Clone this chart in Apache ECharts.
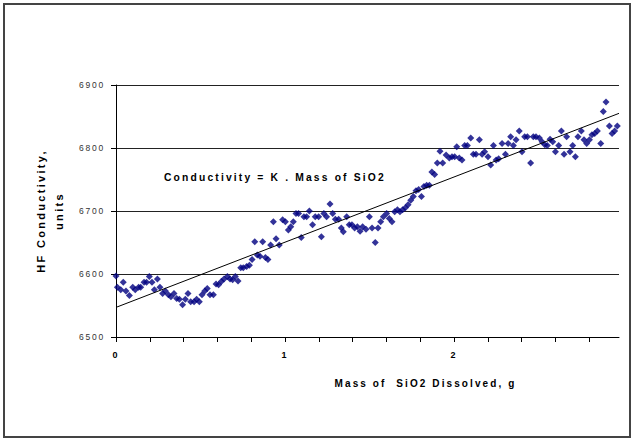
<!DOCTYPE html>
<html>
<head>
<meta charset="utf-8">
<script src="https://cdn.jsdelivr.net/npm/echarts@6/dist/echarts.min.js"></script>
<style>
  html, body { margin: 0; padding: 0; background: #fff; }
  #chart { width: 633px; height: 440px; }
  /* spaced-out lettering, proportional to each label's size */
  #chart svg text { letter-spacing: 0.21em; white-space: pre; }
</style>
</head>
<body>
<div id="chart"></div>
<script>
// Mass of SiO2 dissolved (g) for each reading
const massSiO2 = [
  0.000,0.008,0.028,0.043,0.059,0.079,0.099,0.114,0.134,0.146,0.166,0.181,0.197,0.213,0.227,0.245,0.260,0.276,0.292,0.310,
  0.325,0.343,0.359,0.375,0.394,0.410,0.426,0.442,0.462,0.477,0.493,0.509,0.525,0.540,0.556,0.576,0.592,0.607,0.623,0.639,
  0.659,0.675,0.690,0.706,0.722,0.738,0.753,0.773,0.789,0.805,0.821,0.836,0.852,0.868,0.884,0.899,0.915,
  0.931,0.947,0.966,0.986,1.002,1.020,1.034,1.049,1.065,1.080,1.096,1.112,1.128,1.144,1.163,1.179,1.199,1.215,1.230,1.246,
  1.266,1.282,1.298,1.317,1.333,1.345,1.365,1.380,1.396,1.412,1.428,1.444,1.459,1.479,1.499,1.515,1.534,1.550,1.566,1.582,
  1.601,1.617,1.633,1.649,1.665,1.680,1.696,1.712,1.728,1.744,1.759,1.775,1.791,1.807,1.822,1.838,1.854,1.869,1.885,1.901,1.917,
  1.933,1.953,1.972,1.988,2.004,2.016,2.031,2.047,2.063,2.079,2.099,2.114,2.130,2.150,2.166,2.181,2.201,2.217,2.233,2.249,
  2.264,2.284,2.304,2.320,2.335,2.351,2.367,2.386,2.402,2.418,2.434,2.453,2.469,2.485,2.505,2.521,2.537,2.552,2.568,2.584,
  2.600,2.619,2.635,2.651,2.666,2.686,2.702,2.718,2.733,2.753,2.769,2.785,2.801,2.816,2.832,2.848,2.868,2.883,2.899,2.919,
  2.935,2.950,2.966
];

// HF conductivity reading (units) at each mass
const conductivity = [
  6597,6579,6575,6587,6573,6566,6579,6575,6579,6579,6587,6587,6596,6587,6575,6592,6579,6569,6573,6567,
  6564,6569,6561,6560,6551,6560,6569,6556,6556,6560,6556,6567,6573,6577,6567,6567,6584,6583,6588,6592,
  6596,6592,6591,6596,6589,6610,6610,6612,6614,6623,6651,6630,6628,6651,6626,6623,6646,
  6683,6656,6646,6686,6683,6670,6675,6683,6696,6696,6658,6691,6691,6700,6678,6691,6691,6659,6696,6691,
  6711,6696,6687,6687,6673,6667,6691,6678,6678,6673,6675,6668,6675,6671,6691,6673,6650,6673,6683,6691,
  6696,6688,6683,6699,6702,6699,6702,6705,6710,6717,6723,6732,6734,6723,6739,6741,6741,6762,6758,6776,6795,
  6776,6789,6784,6786,6786,6802,6784,6781,6804,6804,6816,6790,6790,6813,6790,6794,6786,6773,6804,6781,
  6783,6807,6790,6807,6818,6804,6813,6827,6794,6818,6818,6776,6818,6818,6816,6810,6805,6804,6814,6810,
  6794,6804,6827,6790,6818,6794,6804,6786,6818,6827,6813,6807,6813,6821,6823,6827,6807,6858,6873,6835,
  6823,6827,6835
];

// Straight-line fit, end points
const trendMass = [0, 2.976];
const trendConductivity = [6547, 6855];

// Axis ticks
const xTickValues = [0, 0.2, 0.4, 0.6, 0.8, 1.0, 1.2, 1.4, 1.6, 1.8, 2.0, 2.2, 2.4, 2.6, 2.8];
const xLabelValues = [0, 1, 2];
const yTickLabels = ['6500', '6600', '6700', '6800', '6900'];

const FONT = '"Liberation Sans", Arial, sans-serif';

const chart = echarts.init(document.getElementById('chart'), null, { renderer: 'svg' });

chart.setOption({
  backgroundColor: '#fff',
  animation: false,
  textStyle: { fontFamily: FONT },
  grid: { left: 116, top: 85, right: 14, bottom: 103, containLabel: false },
  xAxis: {
    type: 'value',
    min: 0,
    max: 2.976,
    axisLine: { show: true, onZero: false, lineStyle: { color: '#000', width: 1 } },
    axisTick: { show: true, customValues: xTickValues, length: 5, lineStyle: { color: '#000' } },
    axisLabel: {
      customValues: xLabelValues,
      color: '#000', fontSize: 9, fontWeight: 'bold', margin: 13, fontFamily: FONT,
      formatter: v => String(Math.round(v))
    },
    splitLine: { show: false },
    name: 'Mass of  SiO2 Dissolved, g',
    nameLocation: 'middle',
    nameGap: 41,
    nameTextStyle: { color: '#000', fontSize: 10, fontWeight: 'bold', fontFamily: FONT, padding: [0, 0, 0, 116] }
  },
  yAxis: {
    type: 'value',
    min: 6500,
    max: 6900,
    interval: 100,
    axisLine: { show: true, lineStyle: { color: '#000', width: 1 } },
    axisTick: { show: true, length: 5, lineStyle: { color: '#000' } },
    axisLabel: {
      color: '#333', fontSize: 8.5, margin: 11, fontFamily: FONT,
      formatter: v => yTickLabels[Math.round((v - 6500) / 100)] || String(v)
    },
    splitLine: { show: true, lineStyle: { color: '#222', width: 1 } },
    name: 'HF Conductivity,\nunits',
    nameLocation: 'middle',
    nameRotate: 90,
    nameGap: 48,
    nameTextStyle: { color: '#000', fontSize: 11, fontWeight: 'bold', lineHeight: 18, fontFamily: FONT }
  },
  series: [
    {
      name: 'Conductivity',
      type: 'scatter',
      symbol: 'diamond',
      symbolSize: 7,
      itemStyle: { color: '#000080' },
      data: massSiO2.map((m, i) => [m, conductivity[i]]),
      z: 3
    },
    {
      name: 'Fit',
      type: 'line',
      symbol: 'none',
      lineStyle: { color: '#000', width: 1 },
      data: trendMass.map((m, i) => [m, trendConductivity[i]]),
      z: 4
    }
  ],
  graphic: [
    {
      type: 'rect',
      shape: { x: 4, y: 4, width: 626, height: 433 },
      style: { fill: 'none', stroke: '#444', lineWidth: 2 },
      silent: true
    },
    {
      type: 'text',
      left: 164,
      top: 172,
      style: {
        text: 'Conductivity = K . Mass of SiO2',
        font: 'bold 10.3px ' + FONT,
        fill: '#000'
      }
    }
  ]
});
</script>
</body>
</html>
